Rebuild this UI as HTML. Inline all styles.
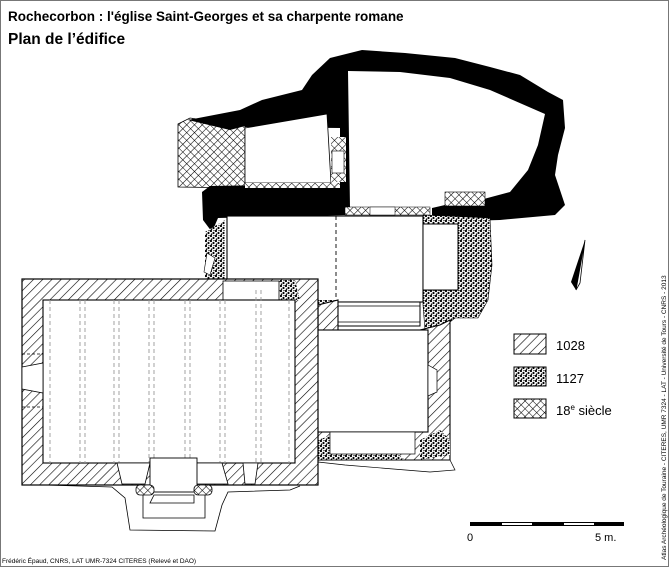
<!DOCTYPE html>
<html><head><meta charset="utf-8"><style>
html,body{margin:0;padding:0;background:#fff;width:670px;height:568px;overflow:hidden}
svg{display:block}
text{font-family:"Liberation Sans",sans-serif}
</style></head><body>
<svg width="670" height="568" viewBox="0 0 670 568" xmlns="http://www.w3.org/2000/svg">
<defs>
<pattern id="h" width="6.5" height="6.5" patternUnits="userSpaceOnUse" patternTransform="rotate(45)">
<rect width="6.5" height="6.5" fill="#fff"/><line x1="0" y1="0" x2="0" y2="6.5" stroke="#000" stroke-width="1.2"/></pattern>
<pattern id="x" width="5.5" height="5.5" patternUnits="userSpaceOnUse" patternTransform="rotate(45)">
<rect width="5.5" height="5.5" fill="#fff"/><path d="M0 0V5.5M0 0H5.5" stroke="#000" stroke-width="1.1"/></pattern>
<pattern id="d" width="5" height="5" patternUnits="userSpaceOnUse">
<rect width="5" height="5" fill="#fff"/><circle cx="1" cy="1" r="1.1"/><circle cx="3.5" cy="3" r="1.1"/><circle cx="1.5" cy="4.2" r="0.8"/><circle cx="4" cy="0.6" r="0.6"/></pattern>
</defs>
<rect x="0.5" y="0.5" width="668" height="566" fill="none" stroke="#777"/>
<text x="8" y="21" font-size="13.5" font-weight="bold">Rochecorbon : l'église Saint-Georges et sa charpente romane</text>
<text x="8" y="44" font-size="15.5" font-weight="bold">Plan de l’édifice</text>

<!-- 18th c left block -->
<polygon points="178,124 190,118 245,126 245,188 178,187" fill="url(#x)" stroke="#000" stroke-width="0.8"/>
<!-- black north chamber -->
<path d="M188,120 L240,110 L262,100 L302,90 L312,75 L330,58 L362,50 L405,53 L455,58 L490,67 L520,75 L548,92 L563,100 L565,128 L558,155 L555,175 L565,205 L555,215 L500,220 L432,222 L432,208 L350,210 L350,215 L218,218 L212,232 L203,220 L202,192 L210,186 L340,184 L340,128 L245,127 L245,126 L230,130 Z" fill="#000"/>
<path d="M348,71 L400,72 L450,78 L490,90 L545,114 L538,145 L528,170 L510,192 L480,200 L445,205 L432,208 L350,208 Z" fill="#fff"/>
<path d="M245,128 L327,114 L331,183 L245,183 Z" fill="#fff" stroke="#000" stroke-width="0.8"/>
<rect x="331" y="137" width="15" height="45" fill="url(#x)"/>
<rect x="332" y="151" width="12" height="22" fill="#fff" stroke="#000" stroke-width="0.6"/>
<rect x="245" y="183" width="95" height="5" fill="url(#x)"/>
<rect x="345" y="207" width="85" height="8" fill="url(#x)" stroke="#000" stroke-width="0.5"/>
<rect x="370" y="207" width="25" height="8" fill="#fff" stroke="#000" stroke-width="0.5"/>
<rect x="445" y="192" width="40" height="14" fill="url(#x)" stroke="#000" stroke-width="0.6"/>

<!-- dotted 1127 right -->
<path d="M423,215 L490,218 L492,265 L488,300 L478,318 L455,318 L440,330 L425,330 L423,305 Z" fill="url(#d)" stroke="#000" stroke-width="0.6"/>
<path d="M205,232 L225,220 L225,300 L205,300 Z" fill="url(#d)"/>
<polygon points="207,253 215,258 210,275 204,272" fill="#fff" stroke="#000" stroke-width="0.6"/>
<!-- tower room -->
<rect x="227" y="216" width="196" height="86" fill="#fff" stroke="#000" stroke-width="1.1"/>
<line x1="336" y1="216" x2="336" y2="302" stroke="#000" stroke-dasharray="4,3" stroke-width="0.9"/>
<rect x="423" y="224" width="35" height="66" fill="#fff" stroke="#000" stroke-width="1"/>
<!-- passage -->
<path d="M316,300 L338,300 L338,325 L316,330 Z" fill="url(#d)"/>
<rect x="338" y="302" width="82" height="24" fill="#fff" stroke="#000" stroke-width="1"/>
<line x1="338" y1="306" x2="420" y2="306" stroke="#000" stroke-width="0.7"/>
<line x1="338" y1="322" x2="420" y2="322" stroke="#000" stroke-width="0.7"/>

<!-- choir walls -->
<path d="M318,305 L338,300 L338,330 L420,330 L440,325 L450,320 L450,460 L318,460 Z" fill="url(#h)" stroke="#000" stroke-width="1.1"/>
<path d="M318,440 L340,432 L380,440 L405,460 L318,460 Z" fill="url(#d)"/>
<path d="M420,440 L440,430 L450,440 L450,455 L420,460 Z" fill="url(#d)"/>
<rect x="315" y="330" width="113" height="102" fill="#fff" stroke="#000" stroke-width="1.1"/>
<rect x="330" y="432" width="85" height="22" fill="#fff" stroke="#000" stroke-width="0.7"/>
<polygon points="428,365 437,370 437,392 428,396" fill="#fff" stroke="#000" stroke-width="0.7"/>
<path d="M318,460 L450,460 L455,470 L430,472 L345,465 L318,462" fill="none" stroke="#000" stroke-width="0.7"/>

<!-- nave -->
<rect x="22" y="279" width="296" height="206" fill="url(#h)" stroke="#000" stroke-width="1.2"/>
<path d="M280,280 L295,280 L300,300 L280,300 Z" fill="url(#d)"/>
<rect x="223" y="281" width="56" height="19" fill="#fff" stroke="#000" stroke-width="0.8"/>
<rect x="43" y="300" width="252" height="163" fill="#fff" stroke="#000" stroke-width="1.1"/>
<g stroke="#999" stroke-width="0.9" stroke-dasharray="4,3">
<line x1="50" y1="300" x2="50" y2="463"/><line x1="80" y1="300" x2="80" y2="463"/><line x1="85" y1="300" x2="85" y2="463"/>
<line x1="114" y1="300" x2="114" y2="463"/><line x1="119" y1="300" x2="119" y2="463"/>
<line x1="149" y1="300" x2="149" y2="463"/><line x1="154" y1="300" x2="154" y2="463"/>
<line x1="185" y1="300" x2="185" y2="463"/><line x1="190" y1="300" x2="190" y2="463"/>
<line x1="220" y1="300" x2="220" y2="463"/><line x1="225" y1="300" x2="225" y2="463"/>
<line x1="256" y1="290" x2="256" y2="463"/><line x1="261" y1="290" x2="261" y2="463"/>
<line x1="289" y1="300" x2="289" y2="463"/></g>
<polygon points="22,367 43,363 43,393 22,389" fill="#fff" stroke="#000" stroke-width="0.8"/>
<g stroke="#000" stroke-width="0.8" stroke-dasharray="3,2"><line x1="22" y1="354" x2="43" y2="354"/><line x1="22" y1="407" x2="43" y2="407"/></g>
<!-- south door -->
<path d="M117,463 L150,463 L145,484 L122,484 Z" fill="#fff" stroke="#000" stroke-width="0.8"/>
<path d="M195,463 L222,463 L228,484 L190,484 Z" fill="#fff" stroke="#000" stroke-width="0.8"/>
<path d="M243,463 L258,463 L255,484 L245,484 Z" fill="#fff" stroke="#000" stroke-width="0.8"/>
<rect x="150" y="458" width="47" height="34" fill="#fff" stroke="#000" stroke-width="0.9"/>
<rect x="136" y="485" width="18" height="10" rx="4" fill="url(#x)" stroke="#000" stroke-width="0.8"/>
<rect x="194" y="485" width="18" height="10" rx="4" fill="url(#x)" stroke="#000" stroke-width="0.8"/>
<path d="M154,495 L194,495 L194,503 L150,503 Z" fill="none" stroke="#000" stroke-width="0.8"/>
<path d="M143,495 L143,518 L205,518 L205,495" fill="none" stroke="#000" stroke-width="0.8"/>
<path d="M45,485 L112,487 L125,498 L130,530 L215,531 L222,505 L228,492 L290,490 L300,486" fill="none" stroke="#000" stroke-width="0.8"/>

<!-- legend -->
<rect x="514" y="334" width="32" height="20" fill="url(#h)" stroke="#000"/>
<rect x="514" y="367" width="32" height="19" fill="url(#d)" stroke="#000"/>
<rect x="514" y="399" width="32" height="19" fill="url(#x)" stroke="#000"/>
<text x="556" y="350" font-size="13">1028</text>
<text x="556" y="383" font-size="13">1127</text>
<text x="556" y="415" font-size="13">18<tspan font-size="8" dy="-5">e</tspan><tspan dy="5"> siècle</tspan></text>
<!-- scale -->
<rect x="470" y="522" width="154" height="4" fill="#000"/>
<rect x="502" y="523" width="30" height="2" fill="#fff"/>
<rect x="564" y="523" width="30" height="2" fill="#fff"/>
<text x="467" y="541" font-size="11">0</text>
<text x="595" y="541" font-size="11">5 m.</text>
<!-- north arrow -->
<polygon points="585,240 576,290 571,282" fill="#000"/>
<polygon points="585,240 576,290 580,283" fill="#fff" stroke="#000" stroke-width="0.8"/>
<text x="0" y="0" font-size="6.5" transform="translate(666,560) rotate(-90)">Atlas Archéologique de Touraine - CITERES, UMR 7324 - LAT - Université de Tours - CNRS - 2013</text>
<text x="2" y="563" font-size="6.5">Frédéric Épaud, CNRS, LAT UMR-7324 CITERES (Relevé et DAO)</text>
</svg>
</body></html>
